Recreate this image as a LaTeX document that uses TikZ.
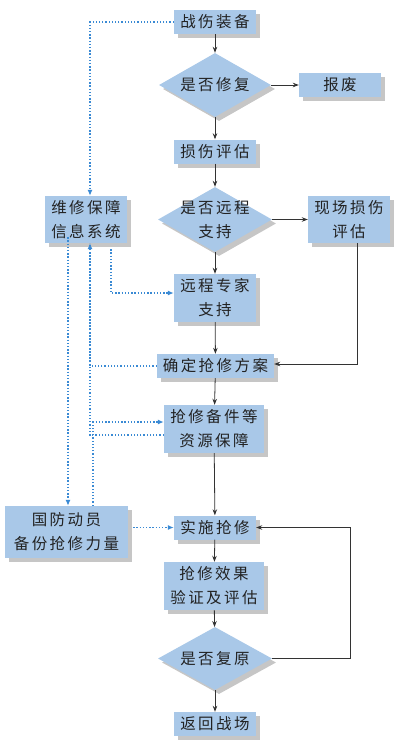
\documentclass[tikz,border=0pt]{standalone}
\usepackage{fontspec}
\usetikzlibrary{shapes.geometric,shadows,arrows.meta}
\newfontfamily\cjk[LetterSpace=16]{Noto Sans CJK SC}
\definecolor{boxblue}{HTML}{A9C8E8}
\definecolor{shadowgray}{HTML}{C6C6C6}
\definecolor{txt}{HTML}{222222}
\definecolor{linkblue}{HTML}{3A8AD4}
\definecolor{flowline}{HTML}{333333}
\newcommand{\mkdia}[1]{\makebox[16pt][c]{#1}}
\begin{document}
\begin{tikzpicture}[x=1pt,y=-1pt,
  base/.style={fill=boxblue, draw=none, text=txt, inner sep=0pt, align=center,
    font=\cjk\fontsize{15.5}{24}\selectfont,
    drop shadow={shadow xshift=4pt, shadow yshift=-4pt, fill=shadowgray, opacity=1}},
  procbox/.style={base, rectangle},
  decision/.style={base, diamond, aspect=1.72},
  flow/.style={draw=flowline, line width=0.8pt, -{Stealth[length=6pt,width=4.5pt]}},
  link/.style={draw=linkblue, line width=1.2pt, dash pattern=on 1.3pt off 1.9pt, -{Latex[length=6pt,width=5pt]}},
  linkplain/.style={draw=linkblue, line width=1.2pt, dash pattern=on 1.3pt off 1.9pt}
]
\useasboundingbox (0,0) rectangle (407,750);

\node[procbox, minimum width=82pt, minimum height=24pt] (n1) at (215,22) {战伤装备};
\node[decision, minimum width=112pt, minimum height=64pt] (d1) at (215,85) {\mkdia{是否修复}};
\node[procbox, minimum width=82pt, minimum height=24pt] (scrap) at (340,85) {报废};
\node[procbox, minimum width=82pt, minimum height=24pt] (n2) at (215,151.5) {损伤评估};
\node[decision, minimum width=114pt, minimum height=65pt] (d2) at (215,219.5) {\mkdia{是否远程}\\\mkdia{支持}};
\node[procbox, minimum width=82pt, minimum height=47pt] (field) at (349,219.5) {现场损伤\\评估};
\node[procbox, minimum width=82pt, minimum height=47pt] (info) at (86,219.5) {维修保障\\信息系统};
\node[procbox, minimum width=82pt, minimum height=48pt] (remote) at (215,298) {远程专家\\支持};
\node[procbox, minimum width=117pt, minimum height=24pt] (plan) at (215.5,366) {确定抢修方案};
\node[procbox, minimum width=100pt, minimum height=48pt] (res) at (214,429) {抢修备件等\\资源保障};
\node[procbox, minimum width=123pt, minimum height=52pt] (mob) at (66.5,532) {国防动员\\备份抢修力量};
\node[procbox, minimum width=82pt, minimum height=24pt] (impl) at (215,527.5) {实施抢修};
\node[procbox, minimum width=100pt, minimum height=48pt] (verify) at (214,586) {抢修效果\\验证及评估};
\node[decision, minimum width=114pt, minimum height=63pt] (d3) at (215,658.5) {\mkdia{是否复原}};
\node[procbox, minimum width=82pt, minimum height=24pt] (ret) at (215,724) {返回战场};

% main flow
\draw[flow] (n1) -- (d1);
\draw[flow] (d1) -- (scrap);
\draw[flow] (d1) -- (n2);
\draw[flow] (n2) -- (d2);
\draw[flow] (d2.east) -- (field.west |- d2.east);
\draw[flow] (d2) -- (remote);
\draw[flow] (remote) -- (plan);
\draw[flow] ([xshift=8pt]field.south) |- ([yshift=2pt]plan.east);
\draw[flow] (plan) -- (res);
\draw[flow] (res) -- (impl);
\draw[flow] (impl) -- (verify);
\draw[flow] (verify) -- (d3);
\draw[flow] (d3) -- (ret);
\coordinate (loopc) at (350,658.5);
\draw[flow] (d3.east) -- (loopc) |- (impl.east);

% information links
\draw[link] (n1.west) -| ([xshift=4pt]info.north);
\draw[link] ([xshift=25pt,yshift=-6pt]info.south) |- ([yshift=5pt]remote.west);
\draw[link] (plan.west) -| ([xshift=4pt]info.south);
\draw[linkplain] ([yshift=-6pt]res.west) -| ([xshift=4pt]info.south);
\draw[link] ([xshift=-18pt,yshift=6pt]info.south) -- ([xshift=-18pt]info.south |- mob.north);
\draw[link] ([xshift=26.5pt]mob.north) |- ([yshift=7pt]res.west);
\draw[link] ([xshift=5pt]mob.east |- impl.west) -- (impl.west);
\end{tikzpicture}
\end{document}
